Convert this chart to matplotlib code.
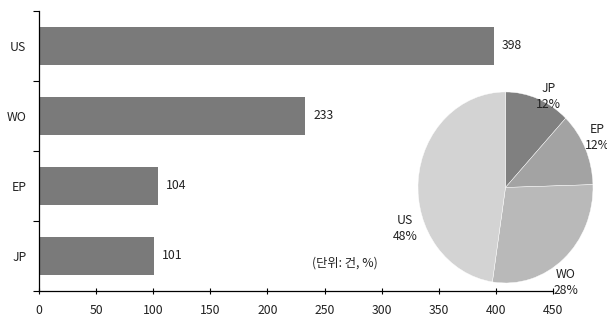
import matplotlib
matplotlib.use("Agg")
import matplotlib.pyplot as plt

plt.rcParams['font.family'] = ['Noto Sans CJK KR', 'DejaVu Sans']

categories = ["JP", "EP", "WO", "US"]
counts = [101, 104, 233, 398]
x_ticks = [0, 50, 100, 150, 200, 250, 300, 350, 400, 450]
unit_note = "(단위: 건, %)"

bar_color = "#7a7a7a"
pie_colors = ["#808080", "#a3a3a3", "#b9b9b9", "#d3d3d3"]
text_color = "#222222"
fs = 8.8

fig = plt.figure(figsize=(6.07, 3.26), dpi=100)
ax = fig.add_axes([0.0642, 0.1074, 0.8468, 0.859])

ypos = list(range(len(categories)))
ax.barh(ypos, counts, height=0.55, color=bar_color)
for y, v in zip(ypos, counts):
    ax.text(v + 7, y, str(v), va="center", ha="left", fontsize=fs, color=text_color)

ax.set_xlim(0, 450)
ax.set_ylim(-0.5, len(categories) - 0.5)
ax.set_xticks(x_ticks)
ax.set_xticklabels([str(t) for t in x_ticks], fontsize=fs, color=text_color)
ax.set_yticks([y - 0.5 for y in range(len(categories) + 1)])
ax.set_yticklabels([])
ax.set_yticks(ypos, minor=True)
ax.set_yticklabels(categories, minor=True, fontsize=fs, color=text_color)
ax.tick_params(axis="y", which="major", direction="out", length=4, width=0.8)
ax.tick_params(axis="y", which="minor", length=0, pad=9)
ax.tick_params(axis="x", direction="inout", length=5, width=0.8, pad=7)
for s in ("top", "right"):
    ax.spines[s].set_visible(False)
for s in ("left", "bottom"):
    ax.spines[s].set_linewidth(0.9)

fig.text(0.568, 0.193, unit_note, ha="center", va="center", fontsize=fs, color=text_color)

# share of each office as a pie, drawn clockwise from 12 o'clock
pax = fig.add_axes([0.6886, 0.1319, 0.2883, 0.586])
total = sum(counts)
wedges, _ = pax.pie(counts, colors=pie_colors, startangle=90, counterclock=False,
                    radius=1.0, wedgeprops=dict(edgecolor="white", linewidth=0.3))
pax.set_xlim(-1, 1)
pax.set_ylim(-1, 1)
pax.set_aspect("auto")
pax.axis("off")

label_pos = {"JP": (0.49, 0.95), "EP": (1.05, 0.52), "WO": (0.69, -0.99), "US": (-1.15, -0.43)}
for cat, v in zip(categories, counts):
    lx, ly = label_pos[cat]
    pax.text(lx, ly, f"{cat}\n{round(100 * v / total)}%", ha="center", va="center",
             fontsize=fs, color=text_color, linespacing=1.3, clip_on=False)

fig.savefig("out.png", dpi=100)
